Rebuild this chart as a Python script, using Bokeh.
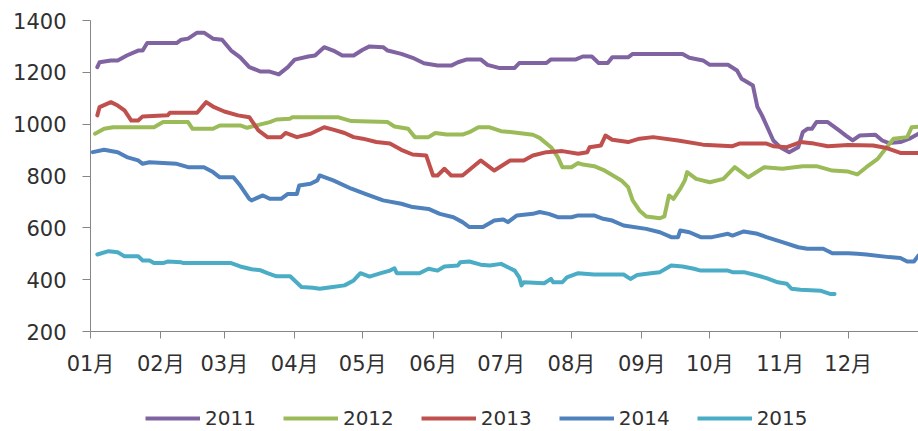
from bokeh.plotting import figure
from bokeh.layouts import column
from bokeh.models import Range1d, FixedTicker, Legend, LegendItem
from bokeh.embed import file_html
from bokeh.resources import INLINE

# ---- data (x = day of year, y = price) ----
month_starts = [0, 31, 59, 90, 120, 151, 181, 212, 243, 273, 304, 334]
month_labels = ["01月", "02月", "03月", "04月", "05月", "06月",
                "07月", "08月", "09月", "10月", "11月", "12月"]
y_ticks = [200, 400, 600, 800, 1000, 1200, 1400]

years = ["2011", "2012", "2013", "2014", "2015"]
colors = ["#8064A2", "#9BBB59", "#C0504D", "#4F81BD", "#4BACC6"]

d2011 = [3, 4, 9, 12, 16, 21, 23, 25, 38, 40, 43, 47, 50, 54, 58, 62, 66, 70, 75, 79,
         83, 87, 90, 96, 99, 103, 107, 111, 116, 120, 123, 129, 131, 137, 142, 147, 153,
         159, 162, 166, 172, 175, 180, 187, 189, 201, 203, 214, 217, 221, 224, 228, 230,
         237, 239, 261, 264, 270, 273, 281, 285, 287, 292, 294, 296, 301, 304, 308, 312,
         314, 316, 318, 320, 325, 330, 333, 336, 339, 346, 349, 352, 357, 361, 365]
v2011 = [1220, 1239, 1246, 1246, 1265, 1284, 1284, 1313, 1313, 1326, 1330, 1353, 1353,
         1330, 1326, 1284, 1258, 1220, 1203, 1203, 1192, 1220, 1249, 1261, 1265, 1297,
         1284, 1265, 1265, 1287, 1300, 1297, 1284, 1271, 1256, 1235, 1226, 1226, 1239,
         1250, 1250, 1229, 1217, 1217, 1236, 1236, 1250, 1250, 1261, 1261, 1236, 1236,
         1258, 1258, 1271, 1271, 1256, 1246, 1229, 1229, 1207, 1175, 1149, 1066, 1034,
         937, 911, 892, 911, 969, 982, 982, 1008, 1008, 976, 956, 937, 956, 959, 937,
         927, 931, 944, 963]

d2012 = [2, 6, 10, 28, 32, 43, 45, 54, 57, 66, 69, 79, 82, 88, 89, 101, 109, 115, 131,
         134, 140, 143, 149, 152, 157, 164, 167, 171, 176, 181, 186, 195, 198, 203, 206,
         208, 212, 215, 217, 222, 226, 229, 234, 237, 239, 242, 245, 251, 253, 255, 257,
         260, 262, 263, 267, 273, 279, 284, 290, 297, 305, 314, 320, 327, 334, 338, 342,
         347, 351, 354, 360, 362, 365]
v2012 = [963, 982, 988, 988, 1008, 1008, 982, 982, 995, 995, 986, 1008, 1018, 1021, 1027,
         1027, 1027, 1012, 1008, 991, 982, 950, 950, 966, 960, 960, 969, 988, 988, 973,
         969, 959, 947, 911, 873, 834, 834, 850, 844, 838, 824, 809, 783, 757, 706, 667,
         644, 637, 644, 725, 712, 751, 783, 815, 789, 776, 789, 834, 795, 834, 828, 838,
         838, 821, 817, 806, 834, 866, 911, 944, 950, 988, 990]

d2013 = [3, 4, 9, 12, 15, 18, 21, 23, 34, 35, 47, 51, 54, 59, 65, 70, 74, 78, 84, 86,
         91, 97, 103, 107, 112, 116, 120, 126, 132, 137, 142, 148, 151, 153, 156, 159,
         164, 172, 178, 185, 191, 195, 201, 208, 215, 219, 220, 225, 227, 230, 237, 242,
         248, 259, 270, 283, 286, 298, 301, 307, 313, 319, 325, 334, 345, 351, 357, 365]
v2013 = [1034, 1066, 1085, 1072, 1053, 1014, 1014, 1030, 1034, 1044, 1044, 1085, 1068,
         1049, 1034, 1027, 976, 950, 950, 966, 950, 963, 988, 979, 966, 950, 944, 931,
         925, 901, 883, 879, 802, 802, 828, 802, 802, 860, 821, 860, 860, 879, 892, 896,
         886, 892, 911, 918, 956, 940, 931, 944, 950, 937, 921, 915, 925, 925, 915, 911,
         931, 925, 915, 920, 918, 908, 889, 889]

d2014 = [1, 6, 12, 16, 21, 23, 26, 38, 43, 50, 54, 57, 63, 66, 70, 71, 76, 79, 84, 87,
         91, 92, 97, 100, 101, 107, 115, 122, 129, 137, 142, 149, 154, 160, 164, 167, 173,
         178, 182, 184, 188, 195, 198, 202, 206, 212, 215, 222, 226, 230, 235, 245, 251,
         256, 259, 260, 264, 269, 274, 281, 283, 288, 294, 298, 305, 312, 316, 323, 327,
         334, 338, 342, 352, 357, 360, 363, 365]
v2014 = [892, 901, 892, 873, 860, 847, 853, 847, 834, 834, 815, 795, 795, 763, 712, 706,
         725, 712, 712, 731, 731, 763, 770, 783, 802, 783, 751, 728, 706, 693, 680, 673,
         654, 641, 622, 603, 603, 628, 632, 622, 648, 654, 661, 654, 641, 641, 648, 648,
         635, 628, 609, 596, 583, 564, 564, 590, 583, 564, 564, 577, 570, 586, 577, 564,
         545, 525, 519, 519, 502, 502, 500, 497, 487, 484, 470, 470, 493]

d2015 = [3, 8, 12, 15, 21, 23, 26, 28, 32, 34, 40, 41, 62, 66, 71, 75, 78, 82, 88, 93,
         98, 101, 106, 112, 116, 119, 123, 128, 132, 134, 135, 145, 149, 153, 156, 162,
         163, 167, 172, 176, 181, 184, 187, 189, 190, 191, 200, 203, 204, 208, 210, 215,
         222, 235, 238, 241, 247, 251, 256, 261, 266, 269, 281, 283, 288, 294, 298, 303,
         307, 309, 313, 322, 326, 328]
v2015 = [497, 510, 506, 490, 490, 474, 474, 464, 464, 470, 467, 464, 464, 451, 440, 436,
         425, 413, 413, 372, 369, 365, 371, 378, 397, 425, 412, 425, 435, 444, 425, 425,
         442, 435, 451, 455, 467, 470, 458, 455, 461, 448, 435, 409, 378, 390, 386, 403,
         390, 390, 409, 425, 420, 420, 403, 418, 425, 429, 455, 451, 442, 435, 435, 429,
         429, 416, 406, 390, 384, 365, 361, 357, 345, 345]

series_x = [d2011, d2012, d2013, d2014, d2015]
series_y = [v2011, v2012, v2013, v2014, v2015]

FONT = "'DejaVu Sans', 'Noto Sans CJK SC'"
TEXT = "#303030"
AXIS = "#868686"

# ---- main chart ----
p = figure(width=918, height=381, output_backend="svg", toolbar_location=None,
           x_range=Range1d(0, 365), y_range=Range1d(200, 1400),
           min_border_left=90, min_border_right=0, min_border_top=20,
           min_border_bottom=50)
p.outline_line_color = None
p.grid.visible = False

for xs, ys, c in zip(series_x, series_y, colors):
    p.line(xs, ys, line_color=c, line_width=4, line_join="round", line_cap="round")

p.yaxis.ticker = FixedTicker(ticks=y_ticks)
p.xaxis.ticker = FixedTicker(ticks=month_starts)
p.xaxis.major_label_overrides = {m: l for m, l in zip(month_starts, month_labels)}
for ax in (p.xaxis[0], p.yaxis[0]):
    ax.axis_line_color = AXIS
    ax.major_tick_line_color = AXIS
    ax.minor_tick_line_color = None
    ax.major_tick_in = 0
    ax.major_label_text_font = FONT
    ax.major_label_text_font_size = "21px"
    ax.major_label_text_color = TEXT
p.yaxis.major_tick_out = 8
p.yaxis.major_label_standoff = 16
p.xaxis.major_tick_out = 7
p.xaxis.major_label_standoff = 13

# ---- legend strip (same series, kept out of view; only the legend shows) ----
lg = figure(width=918, height=50, output_backend="svg", toolbar_location=None,
            x_range=Range1d(-10, -5), y_range=Range1d(-10, -5),
            x_axis_type=None, y_axis_type=None,
            min_border_left=0, min_border_right=0, min_border_top=0,
            min_border_bottom=0)
lg.outline_line_color = None
lg.grid.visible = False
items = []
for yr, xs, ys, c in zip(years, series_x, series_y, colors):
    r = lg.line(xs, ys, line_color=c, line_width=4)
    items.append(LegendItem(label=yr, renderers=[r]))

legend = Legend(items=items, orientation="horizontal", location=(55, 1),
                glyph_width=55, glyph_height=20, label_height=20,
                label_standoff=5, spacing=27, padding=0, margin=0,
                border_line_color=None, background_fill_alpha=0,
                label_text_font=FONT, label_text_font_size="20px",
                label_text_color=TEXT)
lg.add_layout(legend, "center")

layout = column(p, lg, spacing=0)
open("out.html", "w").write(file_html(layout, INLINE))
